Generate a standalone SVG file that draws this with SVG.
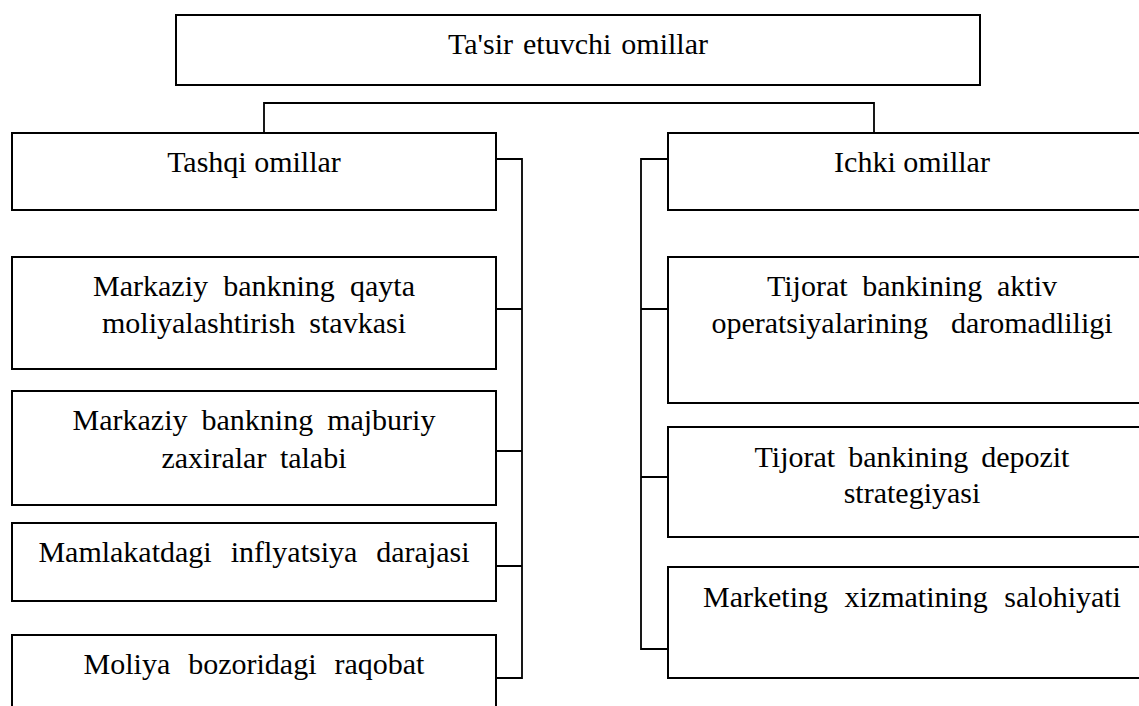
<svg xmlns="http://www.w3.org/2000/svg" width="1139" height="706" viewBox="0 0 1139 706">
  <style>
    .box { fill: #ffffff; stroke: #000000; stroke-width: 2; }
    .conn { fill: none; stroke: #000000; stroke-width: 1.8; }
    .lbl { font-family: "Liberation Serif", "Times New Roman", serif; font-size: 30px; fill: #000000; text-anchor: middle; }
  </style>
  <rect x="0" y="0" width="1139" height="706" fill="#ffffff"/>

  <!-- connectors -->
  <g id="connectors">
    <path class="conn" d="M264 133 V103 H874 V133"/>
    <path class="conn" d="M496 159 H522 V678 H496 M496 309 H522 M496 451 H522 M496 566 H522"/>
    <path class="conn" d="M668 159 H641 V649 H668 M641 309 H668 M641 477 H668"/>
  </g>

  <g id="root">
    <rect class="box" x="176" y="15" width="804" height="70"/>
    <text class="lbl" x="578" y="54" word-spacing="2.5">Ta'sir etuvchi omillar</text>
  </g>

  <g id="tashqi">
    <rect class="box" x="12" y="133" width="484" height="77"/>
    <text class="lbl" x="254" y="172">Tashqi omillar</text>
  </g>

  <g id="ichki">
    <rect class="box" x="668" y="133" width="488" height="77"/>
    <text class="lbl" x="912" y="172">Ichki omillar</text>
  </g>

  <g id="qayta-moliyalash">
    <rect class="box" x="12" y="257" width="484" height="112"/>
    <text class="lbl" x="254" y="296" word-spacing="7.7">Markaziy bankning qayta</text>
    <text class="lbl" x="254" y="333" word-spacing="6.5">moliyalashtirish stavkasi</text>
  </g>

  <g id="majburiy-zaxira">
    <rect class="box" x="12" y="391" width="484" height="114"/>
    <text class="lbl" x="254" y="430" word-spacing="6.5">Markaziy bankning majburiy</text>
    <text class="lbl" x="254" y="468" word-spacing="6">zaxiralar talabi</text>
  </g>

  <g id="inflyatsiya">
    <rect class="box" x="12" y="523" width="484" height="78"/>
    <text class="lbl" x="254" y="562" word-spacing="11.5">Mamlakatdagi inflyatsiya darajasi</text>
  </g>

  <g id="raqobat">
    <rect class="box" x="12" y="635" width="484" height="90"/>
    <text class="lbl" x="254" y="674" word-spacing="10.5">Moliya bozoridagi raqobat</text>
  </g>

  <g id="aktiv-daromad">
    <rect class="box" x="668" y="257" width="488" height="146"/>
    <text class="lbl" x="912" y="296" word-spacing="7.2">Tijorat bankining aktiv</text>
    <text class="lbl" x="912" y="333" word-spacing="15.5">operatsiyalarining daromadliligi</text>
  </g>

  <g id="depozit">
    <rect class="box" x="668" y="427" width="488" height="110"/>
    <text class="lbl" x="912" y="467" word-spacing="5.5">Tijorat bankining depozit</text>
    <text class="lbl" x="912" y="503">strategiyasi</text>
  </g>

  <g id="marketing">
    <rect class="box" x="668" y="567" width="488" height="111"/>
    <text class="lbl" x="912" y="607" word-spacing="9">Marketing xizmatining salohiyati</text>
  </g>
</svg>
